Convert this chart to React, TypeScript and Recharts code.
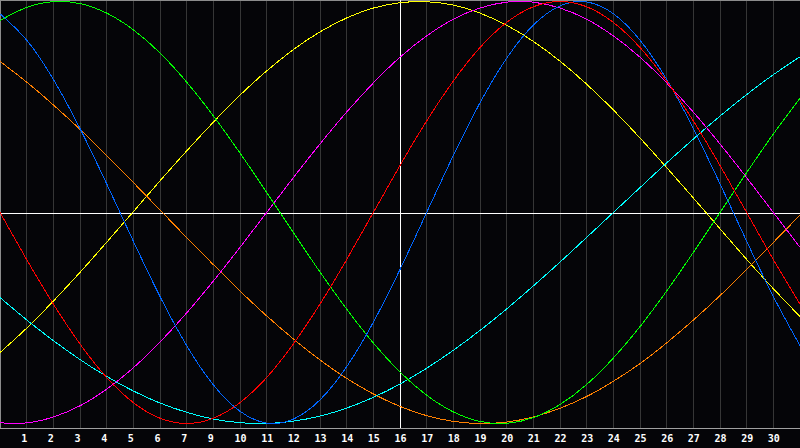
import React from "react";
import { LineChart, Line, XAxis, YAxis, CartesianGrid, ReferenceLine } from "recharts";

// x positions (one per day column)
const positions = [0,1,2,3,4,5,6,7,8,9,10,11,12,13,14,15,16,17,18,19,20,21,22,23,24,25,26,27,28,29,30];
// day labels under each position (the source skips "8")
const dayLabels = ["", "1","2","3","4","5","6","7","9","10","11","12","13","14","15","16","17","18","19","20","21","22","23","24","25","26","27","28","29","30",""];

// series values (-100..100)
const redVals = [0,-22.3,-43.4,-62.3,-78.2,-90.1,-97.5,-100,-97.5,-90.1,-78.2,-62.3,-43.4,-22.3,0,22.3,43.4,62.3,78.2,90.1,97.5,100,97.5,90.1,78.2,62.3,43.4,22.3,0,-22.3,-43.4];
const blueVals = [94.2,81.7,63.1,39.8,13.6,-13.6,-39.8,-63.1,-81.7,-94.2,-99.8,-97.9,-88.8,-73.1,-52.0,-27.0,0,27.0,52.0,73.1,88.8,97.9,99.8,94.2,81.7,63.1,39.8,13.6,-13.6,-39.8,-63.1];
const greenVals = [91.0,97.2,99.9,99.0,94.5,86.6,75.6,61.8,45.8,28.2,9.5,-9.5,-28.2,-45.8,-61.8,-75.6,-86.6,-94.5,-99.0,-99.9,-97.2,-91.0,-81.5,-69.0,-54.1,-37.2,-18.9,0,18.9,37.2,54.1];
const yellowVals = [-66.4,-54.8,-42.0,-28.4,-14.1,0.4,15.0,29.2,42.8,55.6,67.1,77.2,85.6,92.2,96.9,99.4,99.9,98.3,94.5,88.7,81.1,71.7,60.8,48.6,35.3,21.3,6.9,-7.7,-22.2,-36.1,-49.3];
const magentaVals = [-99.7,-99.7,-96.9,-91.6,-83.7,-73.6,-61.4,-47.6,-32.5,-16.5,0,16.5,32.5,47.6,61.4,73.6,83.7,91.6,96.9,99.7,99.7,96.9,91.6,83.7,73.6,61.4,47.6,32.5,16.5,0,-16.5];
const cyanVals = [-40.3,-50.9,-60.7,-69.7,-77.7,-84.6,-90.3,-94.7,-97.9,-99.6,-100.0,-98.9,-96.5,-92.7,-87.6,-81.3,-73.8,-65.3,-55.9,-45.7,-34.8,-23.5,-11.8,0,11.8,23.5,34.8,45.7,55.9,65.3,73.8];
const orangeVals = [71.6,61.8,51.0,39.4,27.0,14.2,1.2,-11.9,-24.7,-37.2,-49.0,-59.9,-69.9,-78.6,-86.0,-91.9,-96.3,-99.0,-100.0,-99.3,-96.9,-92.8,-87.2,-80.0,-71.6,-61.8,-51.0,-39.4,-27.0,-14.2,-1.2];

const todayPos = 15;
const midLineValue = -0.7;
const Y_MIN = -102.13;
const Y_MAX = 100.71;

const data = positions.map((p, i) => ({
  pos: p,
  red: redVals[i],
  blue: blueVals[i],
  green: greenVals[i],
  yellow: yellowVals[i],
  magenta: magentaVals[i],
  cyan: cyanVals[i],
  orange: orangeVals[i],
}));

const series = [
  { key: "yellow", color: "#ffff00" },
  { key: "orange", color: "#ff8000" },
  { key: "cyan", color: "#00ffff" },
  { key: "magenta", color: "#ff00ff" },
  { key: "green", color: "#00ff00" },
  { key: "blue", color: "#0066ff" },
  { key: "red", color: "#ff0000" },
];

const Tick = (props: any) => {
  const { x, payload } = props;
  const label = dayLabels[payload.value] ?? "";
  return (
    <text
      x={x - 5.5}
      y={442}
      fill="#ffffff"
      fontFamily="DejaVu Sans Mono"
      fontWeight="bold"
      fontSize={10}
      textAnchor="start"
    >
      {label}
    </text>
  );
};

export default function App() {
  return (
    <div style={{ position: "absolute", left: 0, top: 0, width: 800, height: 448, background: "#050508" }}>
      <LineChart width={800} height={448} data={data} margin={{ top: 0, right: 0, bottom: 0, left: 0 }}>
        <CartesianGrid horizontal={false} vertical stroke="#363636" shapeRendering="crispEdges" />
        <XAxis
          dataKey="pos"
          type="number"
          domain={[0, 30]}
          ticks={positions}
          height={20}
          tickLine={false}
          axisLine={{ stroke: "#a0a0a0", shapeRendering: "crispEdges" }}
          tick={<Tick />}
          interval={0}
        />
        <YAxis hide domain={[Y_MIN, Y_MAX]} type="number" allowDataOverflow />
        <ReferenceLine x={0} stroke="#8c8c8c" strokeWidth={2} />
        <ReferenceLine y={Y_MAX} stroke="#8c8c8c" strokeWidth={2} />
        <ReferenceLine y={midLineValue} stroke="#ffffff" strokeWidth={1} shapeRendering="crispEdges" />
        <ReferenceLine x={todayPos} stroke="#ffffff" strokeWidth={1} shapeRendering="crispEdges" />
        {series.map((s) => (
          <Line
            key={s.key}
            dataKey={s.key}
            type="natural"
            stroke={s.color}
            strokeWidth={1}
            dot={false}
            activeDot={false}
            isAnimationActive={false}
            shapeRendering="crispEdges"
          />
        ))}
      </LineChart>
    </div>
  );
}
